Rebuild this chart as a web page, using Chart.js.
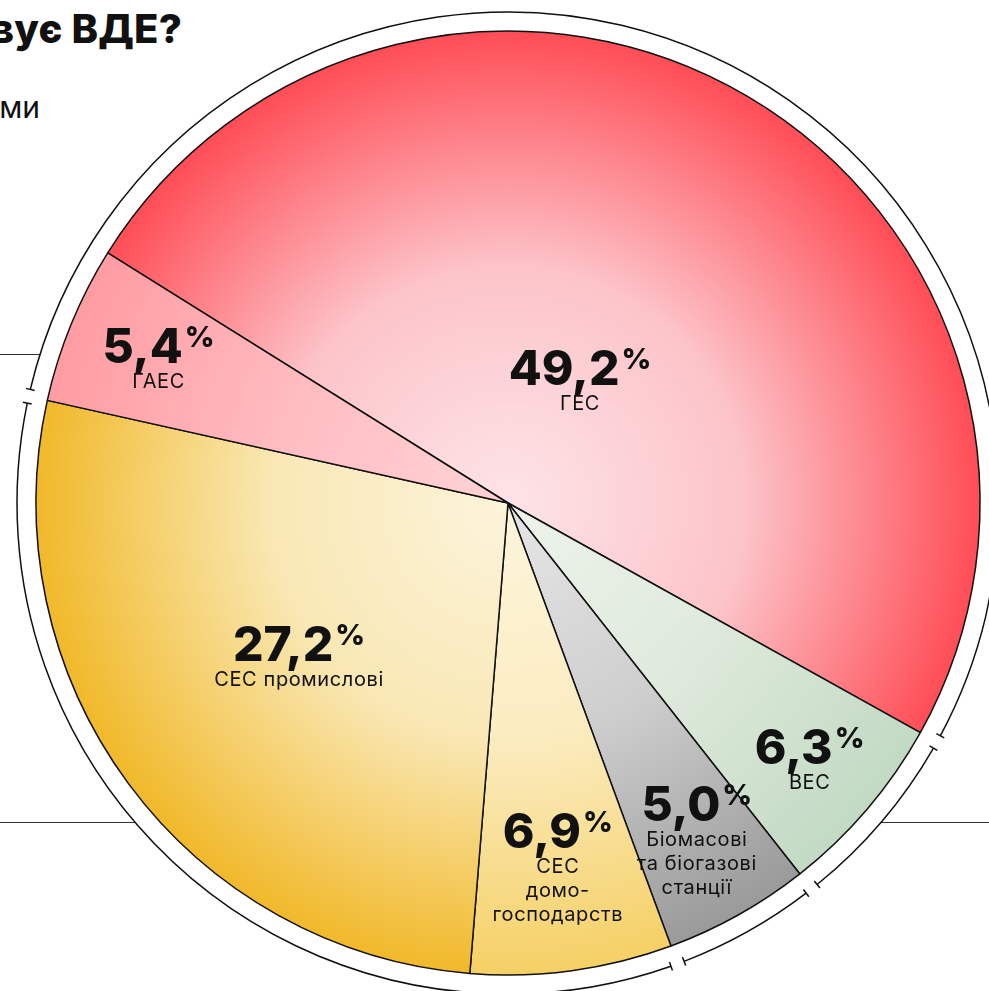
<!DOCTYPE html>
<html lang="uk">
<head>
<meta charset="utf-8">
<title>Структура ВДЕ</title>
<script src="https://cdn.jsdelivr.net/npm/chart.js@4.4.1/dist/chart.umd.min.js"></script>
<style>
  html, body { margin: 0; padding: 0; background: #fff; }
  #page { position: relative; width: 989px; height: 991px; overflow: hidden; background: #fff; }
  .rule { position: absolute; left: 0; height: 0; border-top: 1.5px solid #333; }
  #title { position: absolute; right: 807px; top: 9px; font: 800 40px/40px Inter, "Noto Sans", sans-serif; color: #111; white-space: nowrap; letter-spacing: 0.2px; }
  #sub { position: absolute; right: 949px; top: 92px; font: 400 30px/30px Inter, "Noto Sans", sans-serif; color: #111; white-space: nowrap; }
  #chartBox { position: absolute; left: 8px; top: 3px; width: 1000px; height: 1000px; }
</style>
</head>
<body>
<div id="page">
  <div class="rule" style="top:354px;width:300px"></div>
  <div class="rule" style="top:822px;width:989px"></div>
  <div id="title">вує ВДЕ?</div>
  <div id="sub">ми</div>
  <div id="chartBox"><canvas id="pie" width="1000" height="1000"></canvas></div>
</div>
<script>
// Sources of renewable generation, clockwise from the hydro segment
const categories = ['ГЕС', 'ВЕС', 'Біомасові та біогазові станції', 'СЕС домогосподарств', 'СЕС промислові', 'ГАЕС'];
const labelLines = [['ГЕС'], ['ВЕС'], ['Біомасові', 'та біогазові', 'станції'], ['СЕС', 'домо-', 'господарств'], ['СЕС промислові'], ['ГАЕС']];
const shares = [49.2, 6.3, 5.0, 6.9, 27.2, 5.4];
// Outer ring groups segments by kind of source
const sourceGroups = ['гідро', 'вітер', 'біо', 'сонце', 'сонце', 'гідро'];

// Styling
const pieRadius = 472;
const ringGap = 19;
const gradientStops = [
  ['#fde4e7', '#fcc4c9', '#ff4d56'],
  ['#eef3ec', '#dfeadc', '#c2dac4'],
  ['#e6e6e6', '#cecece', '#9a9a9a'],
  ['#fdf5dc', '#fbecc0', '#f5d065'],
  ['#fcf4db', '#f9e8b5', '#f1b92a'],
  ['#ffd3d6', '#ffbcc1', '#ff9ca2']
];
const labelRadius = [0.30, 0.84, 0.82, 0.78, 0.55, 0.80];
const fontFamily = 'Inter, "Noto Sans", sans-serif';

function fmt(v) { return v.toFixed(1).replace('.', ','); }

function sliceFill(ctx) {
  const chart = ctx.chart;
  const area = chart.chartArea;
  const stops = gradientStops[ctx.dataIndex];
  if (!area) return stops[1];
  const cx = (area.left + area.right) / 2;
  const cy = (area.top + area.bottom) / 2;
  const g = chart.ctx.createRadialGradient(cx, cy, 0, cx, cy, pieRadius);
  g.addColorStop(0, stops[0]);
  g.addColorStop(0.5, stops[1]);
  g.addColorStop(1, stops[2]);
  return g;
}

// White band between the pie and the outer ring
const backdrop = {
  id: 'backdrop',
  beforeDatasetsDraw(chart) {
    const arc = chart.getDatasetMeta(0).data[0];
    if (!arc) return;
    const c = chart.ctx;
    c.save();
    c.beginPath();
    c.arc(arc.x, arc.y, arc.outerRadius + ringGap, 0, Math.PI * 2);
    c.fillStyle = '#fff';
    c.fill();
    c.restore();
  }
};

// Outer ring: one arc per source group, with end ticks at each break
const groupRing = {
  id: 'groupRing',
  afterDatasetsDraw(chart) {
    const arcs = chart.getDatasetMeta(0).data;
    const n = arcs.length;
    if (!n) return;
    const bounds = [];
    for (let i = 0; i < n; i++) {
      const prev = (i - 1 + n) % n;
      if (sourceGroups[i] !== sourceGroups[prev]) bounds.push(arcs[i].startAngle);
    }
    const cx = arcs[0].x, cy = arcs[0].y;
    const r = arcs[0].outerRadius + ringGap;
    const half = 7 / r;
    const tick = 4.5;
    const c = chart.ctx;
    c.save();
    c.strokeStyle = '#111';
    c.lineWidth = 1.5;
    for (let k = 0; k < bounds.length; k++) {
      const a0 = bounds[k] + half;
      let a1 = bounds[(k + 1) % bounds.length] - half;
      if (a1 <= a0) a1 += Math.PI * 2;
      c.beginPath();
      c.arc(cx, cy, r, a0, a1);
      c.stroke();
      [a0, a1].forEach(a => {
        c.beginPath();
        c.moveTo(cx + Math.cos(a) * (r - tick), cy + Math.sin(a) * (r - tick));
        c.lineTo(cx + Math.cos(a) * (r + tick), cy + Math.sin(a) * (r + tick));
        c.stroke();
      });
    }
    c.restore();
  }
};

// Share value with raised percent sign, source name underneath
const shareLabels = {
  id: 'shareLabels',
  afterDatasetsDraw(chart) {
    const arcs = chart.getDatasetMeta(0).data;
    const c = chart.ctx;
    c.save();
    c.fillStyle = '#111';
    c.textBaseline = 'alphabetic';
    arcs.forEach((arc, i) => {
      const mid = (arc.startAngle + arc.endAngle) / 2;
      const rr = arc.outerRadius * labelRadius[i];
      const ax = arc.x + Math.cos(mid) * rr;
      const ay = arc.y + Math.sin(mid) * rr;
      const lines = labelLines[i];
      const base = ay + 15 - 11.5 * lines.length;
      const num = fmt(chart.data.datasets[0].data[i]);
      c.letterSpacing = '0px';
      c.font = '800 48px ' + fontFamily;
      const w1 = c.measureText(num).width;
      c.font = '800 29px ' + fontFamily;
      const w2 = c.measureText('%').width;
      const x0 = ax - (w1 + 2 + w2) / 2;
      c.textAlign = 'left';
      c.font = '800 48px ' + fontFamily;
      c.fillText(num, x0, base);
      c.font = '800 29px ' + fontFamily;
      c.fillText('%', x0 + w1 + 2, base - 16);
      c.textAlign = 'center';
      c.font = '400 20px ' + fontFamily;
      c.letterSpacing = '0.6px';
      lines.forEach((t, k) => c.fillText(t, ax, base + 25 + 24 * k));
    });
    c.restore();
  }
};

new Chart(document.getElementById('pie'), {
  type: 'pie',
  data: {
    labels: categories,
    datasets: [{
      data: shares,
      backgroundColor: sliceFill,
      borderColor: '#111',
      borderWidth: 1.5
    }]
  },
  options: {
    responsive: false,
    animation: false,
    rotation: -58,
    radius: pieRadius,
    layout: { padding: 28 },
    plugins: { legend: { display: false }, tooltip: { enabled: false } }
  },
  plugins: [backdrop, groupRing, shareLabels]
});
</script>
</body>
</html>
